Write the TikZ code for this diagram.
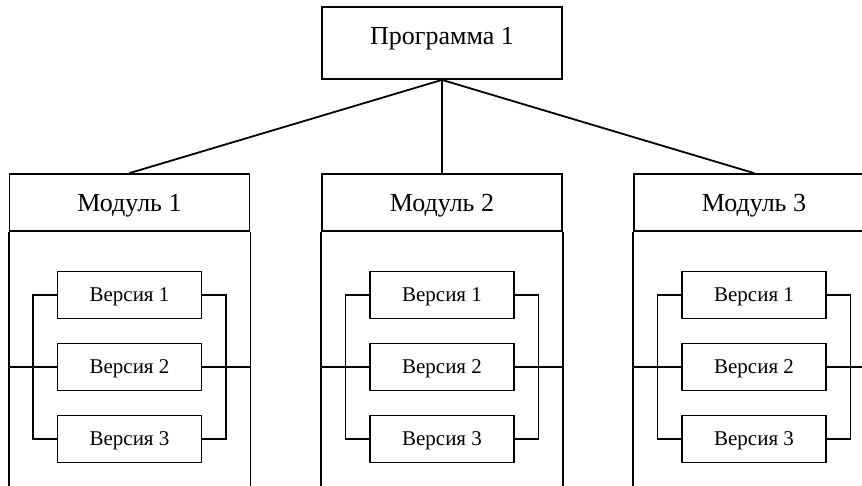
\documentclass[tikz,border=0pt]{standalone}
\usepackage{fontspec}
\setmainfont{Liberation Serif}
\begin{document}
\begin{tikzpicture}[x=1pt,y=-1pt, line width=1.8pt,
  box/.style={draw, rectangle, inner sep=0pt},
  prog/.style={box, minimum width=240pt, minimum height=72pt},
  bigtext/.style={font=\fontsize{26}{30}\selectfont, text depth=0pt},
  modhead/.style={box, minimum width=240pt, minimum height=57pt, font=\fontsize{26}{30}\selectfont, text depth=0pt},
  ver/.style={box, minimum width=144pt, minimum height=47pt, font=\fontsize{21}{25}\selectfont, text depth=0pt}]
\useasboundingbox (0,0) rectangle (862,486);
\clip (0,0) rectangle (862,486);
\node[prog] (p) at (442,43) {};
\node[bigtext] (pt) at (442,36) {Программа 1};
\foreach \i/\cx in {1/129.5, 2/442, 3/754} {
  \node[modhead] (m\i) at (\cx,202.5) {Модуль \i};
  \draw (m\i.south west) -- ++(0,270);
  \draw (m\i.south east) -- ++(0,270);
  \draw (p.south) -- (m\i.north);
  \node[ver] (v\i a) at (\cx,295) {Версия 1};
  \node[ver] (v\i b) at (\cx,367) {Версия 2};
  \node[ver] (v\i c) at (\cx,439) {Версия 3};
  \coordinate (l\i) at (\cx-96.5,367);
  \coordinate (r\i) at (\cx+96.5,367);
  \draw (v\i a.west) -| (l\i) |- (v\i c.west);
  \draw (v\i a.east) -| (r\i) |- (v\i c.east);
  \draw (m\i.south west |- l\i) -- (v\i b.west);
  \draw (v\i b.east) -- (m\i.south east |- r\i);
}
\end{tikzpicture}
\end{document}
